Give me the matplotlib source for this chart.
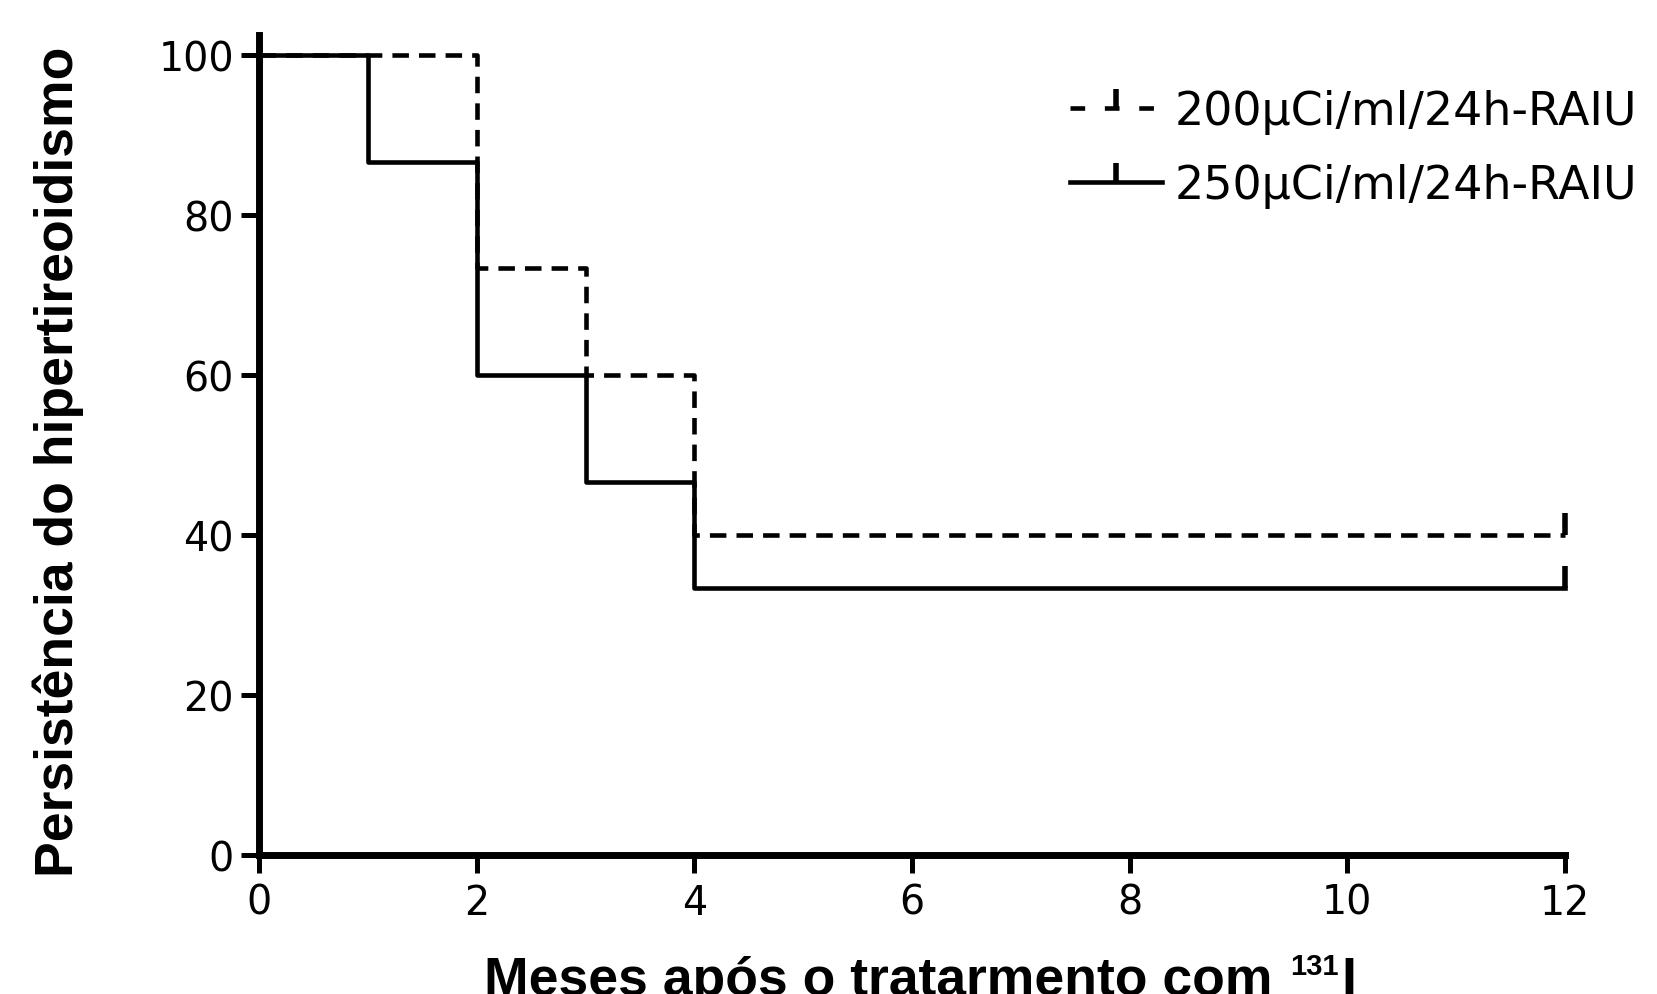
import matplotlib
matplotlib.use("Agg")
import matplotlib.pyplot as plt
from matplotlib.lines import Line2D

# Data (Kaplan-Meier style step curves)
months_200 = [0, 2, 3, 4, 12]
persist_200 = [100, 73.33, 60, 40, 40]
months_250 = [0, 1, 2, 3, 4, 12]
persist_250 = [100, 86.67, 60, 46.67, 33.33, 33.33]
censor_200 = ([12], [40])
censor_250 = ([12], [33.33])
labels = ["200\u03bcCi/ml/24h-RAIU", "250\u03bcCi/ml/24h-RAIU"]
xticks = [0, 2, 4, 6, 8, 10, 12]
yticks = [0, 20, 40, 60, 80, 100]

W, H = 1657, 995
fig = plt.figure(figsize=(W / 100, H / 100), dpi=100)
ax = fig.add_axes([259 / W, 1 - 856 / H, (1565 - 259) / W, (856 - 36) / H])

lw = 3.3
dash = (3.6, 2.2)
ax.step(months_200, persist_200, where="post", color="k", lw=lw,
        linestyle=(0, dash), clip_on=False, zorder=3)
ax.step(months_250, persist_250, where="post", color="k", lw=lw,
        clip_on=False, zorder=4)
ax.plot(*censor_200, linestyle="none", marker=2, ms=16, mew=4, color="k", clip_on=False, zorder=5)
ax.plot(*censor_250, linestyle="none", marker=2, ms=16, mew=4, color="k", clip_on=False, zorder=5)

ax.set_xlim(0, 12)
ax.set_ylim(0, 102.5)
ax.set_xticks(xticks)
ax.set_yticks(yticks)
for s in ["top", "right"]:
    ax.spines[s].set_visible(False)
for s in ["left", "bottom"]:
    ax.spines[s].set_linewidth(5)
ax.tick_params(axis="both", direction="out", length=13, width=3.6, color="k",
               labelsize=28.5)
ax.tick_params(axis="y", pad=5)
ax.tick_params(axis="x", pad=7)
for lab in ax.get_xticklabels() + ax.get_yticklabels():
    lab.set_fontfamily("DejaVu Sans")

bold_fam = ["Liberation Sans"]
fig.text(58 / W, 1 - 462 / H, "Persist\u00eancia do hipertireoidismo",
         rotation=90, ha="center", va="center", fontsize=38.5,
         fontweight="bold", family=bold_fam)

# x label with superscript 131
renderer = fig.canvas.get_renderer()
base_y = 1 - 995 / H
t_main = fig.text(484 / W, base_y, "Meses ap\u00f3s o tratarmento com ",
                  ha="left", va="baseline", fontsize=38.5, fontweight="bold",
                  family=bold_fam)
bb = t_main.get_window_extent(renderer)
x_end = bb.x1 / W
t_sup = fig.text(x_end + 3 / W, 1 - 953 / H, "131", ha="left", va="top",
                 fontsize=21, fontweight="bold", family=bold_fam)
bb2 = t_sup.get_window_extent(renderer)
fig.text(bb2.x1 / W + 2 / W, base_y, "I", ha="left", va="baseline",
         fontsize=38.5, fontweight="bold", family=bold_fam)

handles = [
    Line2D([], [], color="k", lw=lw, linestyle=(0, (3.2, 4.3)), marker=2, ms=14, mew=4),
    Line2D([], [], color="k", lw=lw, marker=2, ms=14, mew=4),
]
leg = fig.legend(handles, labels, loc="upper left",
                 bbox_to_anchor=(1070 / W, 1 - 90 / H), frameon=False,
                 prop={"family": "DejaVu Sans", "size": 33},
                 handlelength=2.0, handletextpad=0.28, labelspacing=0.64,
                 numpoints=1, borderpad=0, borderaxespad=0)

fig.savefig("out.png", dpi=100)
